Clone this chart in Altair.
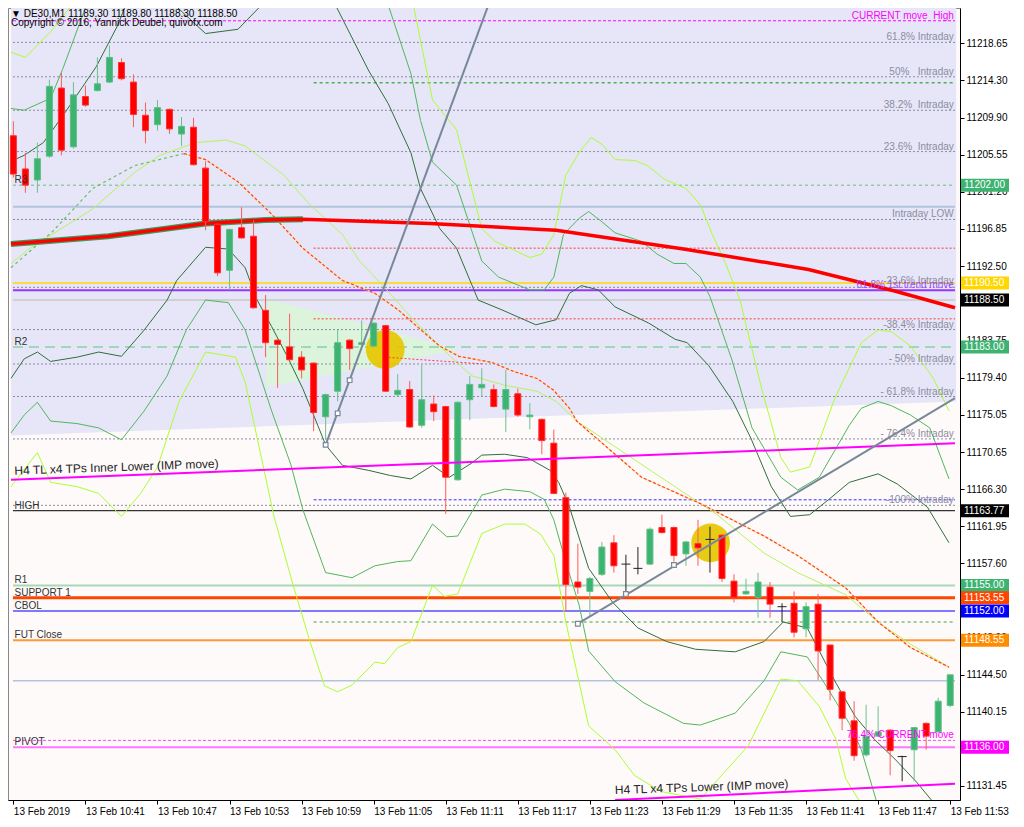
import altair as alt
import pandas as pd

# ---------------- data ----------------
time_labels = ["13 Feb 2019", "13 Feb 10:41", "13 Feb 10:47", "13 Feb 10:53", "13 Feb 10:59",
               "13 Feb 11:05", "13 Feb 11:11", "13 Feb 11:17", "13 Feb 11:23", "13 Feb 11:29",
               "13 Feb 11:35", "13 Feb 11:41", "13 Feb 11:47", "13 Feb 11:53"]
price_ticks = [11218.65, 11214.30, 11209.90, 11205.55, 11201.20, 11196.85, 11192.50, 11188.15,
               11183.75, 11179.40, 11175.05, 11170.65, 11166.30, 11161.95, 11157.60, 11153.25,
               11148.90, 11144.50, 11140.15, 11135.80, 11131.45]
covered_ticks = [11188.15, 11153.25, 11135.80]

opens = [11207.8, 11203.9, 11202.6, 11205.4, 11213.4, 11206.5, 11212.4, 11213.1, 11214.1, 11216.4,
         11214.1, 11210.2, 11209.1, 11210.9, 11208.0, 11208.8, 11204.0, 11197.4, 11192.0, 11197.0,
         11196.0, 11187.3, 11183.8, 11183.0, 11181.8, 11181.1, 11174.8, 11177.8, 11183.8, 11183.3,
         11183.1, 11185.5, 11177.4, 11178.0, 11173.8, 11176.3, 11176.0, 11167.4, 11176.8, 11178.2,
         11178.0, 11175.7, 11177.5, 11174.8, 11174.5, 11171.7, 11165.3, 11155.4, 11154.3, 11156.3,
         11160.0, 11157.5, 11157.0, 11157.5, 11161.8, 11161.8, 11158.7, 11159.9, 11160.4, 11160.9,
         11155.5, 11154.0, 11153.6, 11154.8, 11152.5, 11152.9, 11149.9, 11152.8, 11148.0, 11142.5,
         11139.1, 11135.1, 11137.3, 11138.0, 11134.9, 11135.7, 11138.8, 11137.8, 11140.9]
highs = [11209.5, 11205.8, 11207.0, 11214.4, 11215.2, 11214.1, 11213.7, 11217.0, 11218.4, 11216.9,
         11215.0, 11211.7, 11212.0, 11211.0, 11210.0, 11209.9, 11204.8, 11197.5, 11196.9, 11199.4,
         11197.9, 11189.1, 11183.9, 11186.9, 11182.5, 11181.2, 11177.5, 11185.0, 11183.9, 11186.1,
         11185.9, 11185.6, 11179.8, 11179.0, 11180.9, 11177.3, 11176.1, 11176.6, 11179.6, 11180.5,
         11178.6, 11180.3, 11178.1, 11176.4, 11174.6, 11173.3, 11165.9, 11159.9, 11156.0, 11160.1,
         11160.9, 11158.6, 11159.5, 11161.8, 11163.3, 11161.9, 11160.2, 11162.7, 11161.9, 11161.0,
         11156.3, 11155.8, 11156.5, 11155.4, 11152.9, 11154.3, 11153.0, 11154.0, 11148.0, 11142.6,
         11141.4, 11141.0, 11140.8, 11138.1, 11135.0, 11138.3, 11138.9, 11141.8, 11144.5]
lows = [11202.9, 11201.1, 11201.1, 11205.2, 11205.5, 11206.3, 11211.2, 11213.0, 11214.0, 11214.3,
        11208.8, 11206.9, 11208.4, 11208.0, 11206.6, 11204.3, 11196.7, 11191.3, 11189.7, 11195.7,
        11187.5, 11181.8, 11178.2, 11181.3, 11179.3, 11173.1, 11172.1, 11176.6, 11180.3, 11183.2,
        11183.0, 11177.7, 11177.2, 11173.5, 11173.5, 11174.3, 11163.4, 11167.3, 11174.4, 11177.2,
        11175.9, 11173.0, 11174.8, 11173.3, 11170.4, 11165.7, 11151.9, 11154.0, 11151.3, 11156.1,
        11156.5, 11154.0, 11156.3, 11157.4, 11161.1, 11157.8, 11157.3, 11157.3, 11156.5, 11155.4,
        11153.0, 11153.9, 11151.2, 11151.2, 11150.7, 11148.9, 11148.9, 11143.9, 11141.5, 11138.0,
        11134.4, 11134.9, 11137.2, 11132.7, 11132.0, 11132.0, 11135.7, 11137.7, 11140.7]
closes = [11203.3, 11202.0, 11205.1, 11213.6, 11206.1, 11212.6, 11211.4, 11213.9, 11217.0, 11214.5,
          11210.3, 11208.4, 11211.1, 11208.6, 11208.9, 11204.4, 11197.7, 11191.7, 11196.8, 11195.8,
          11187.6, 11183.5, 11183.3, 11181.5, 11180.3, 11175.3, 11177.4, 11183.5, 11182.8, 11183.5,
          11185.8, 11177.8, 11177.9, 11173.6, 11176.8, 11175.4, 11167.7, 11176.5, 11178.6, 11178.6,
          11176.0, 11178.0, 11175.0, 11175.0, 11172.0, 11165.8, 11155.1, 11154.8, 11155.8, 11159.5,
          11157.3, 11157.5, 11157.0, 11161.6, 11161.2, 11158.5, 11160.1, 11159.4, 11160.4, 11155.8,
          11153.6, 11154.3, 11155.4, 11152.8, 11152.5, 11149.5, 11152.5, 11147.3, 11142.8, 11139.4,
          11135.0, 11137.3, 11137.8, 11135.6, 11134.9, 11138.3, 11137.3, 11141.4, 11144.5]

# indicator lines: (bar position, price) read points
dg_up_bars = [-0.2, 0.9, 2.5, 4.1, 6.9, 8.7, 10.0, 11.6, 13.4, 16.0, 18.7, 20.7, 23.7, 26.8, 29.6, 31.2,
              33.1, 33.9, 35.5, 36.9, 38.7, 40.6, 43.5, 45.2, 46.3, 47.3, 48.7, 50.1, 52.9, 55.1, 56.1,
              57.9, 59.9, 61.4, 63.1, 64.7, 66.3, 67.9, 69.6, 72.0, 73.6, 76.1, 77.9]
dg_up_prices = [11204.8, 11205.5, 11207.0, 11210.1, 11215.9, 11220.8, 11225.5, 11227.8, 11223.2, 11219.8,
                11220.3, 11223.2, 11230.1, 11223.2, 11215.4, 11211.6, 11205.8, 11201.6, 11196.9, 11194.6,
                11188.5, 11187.4, 11185.6, 11186.2, 11189.3, 11190.2, 11189.7, 11187.7, 11185.8, 11183.9,
                11183.5, 11180.8, 11176.6, 11172.3, 11166.6, 11163.1, 11163.3, 11165.1, 11167.1, 11168.1,
                11166.9, 11164.2, 11160.0]
dg_lo_bars = [-0.2, 0.9, 2.0, 3.1, 5.3, 7.1, 9.0, 10.9, 12.8, 13.6, 16.0, 17.9, 19.3, 20.3, 21.5, 22.8,
              24.1, 25.2, 26.0, 27.4, 29.6, 31.4, 33.1, 34.9, 36.3, 38.2, 39.0, 40.9, 42.8, 44.7, 45.4,
              46.3, 47.9, 49.9, 52.0, 54.4, 56.8, 60.1, 62.5, 64.1, 66.1, 67.1, 68.5, 70.1, 71.7, 73.4,
              75.2, 76.9]
dg_lo_prices = [11179.3, 11181.6, 11182.4, 11181.3, 11181.8, 11182.4, 11181.9, 11185.0, 11188.5, 11190.8,
                11194.7, 11194.5, 11192.3, 11188.5, 11185.4, 11181.9, 11178.1, 11174.3, 11171.5, 11169.1,
                11168.5, 11167.9, 11167.5, 11169.1, 11167.7, 11169.4, 11170.3, 11170.4, 11170.0, 11168.5,
                11167.1, 11164.2, 11157.0, 11153.0, 11150.0, 11148.4, 11147.5, 11147.2, 11148.4, 11150.7,
                11150.0, 11147.3, 11143.5, 11139.6, 11136.9, 11134.6, 11131.9, 11129.0]
mg_up_bars = [-0.2, 0.9, 3.1, 4.1, 6.1, 18.5, 31.2, 33.1, 33.9, 34.9, 36.9, 39.0, 40.4, 43.0, 44.2, 45.0,
              45.8, 47.1, 47.9, 49.0, 50.1, 52.3, 53.6, 55.0, 56.0, 57.2, 58.0, 59.8, 61.5, 63.9, 65.3,
              67.1, 69.6, 70.6, 72.0, 73.1, 74.7, 76.3, 77.9]
mg_up_prices = [11211.0, 11210.8, 11212.2, 11215.6, 11223.2, 11232.4, 11223.2, 11215.1, 11209.6, 11204.7,
                11202.0, 11193.1, 11191.2, 11189.7, 11189.7, 11191.2, 11196.2, 11198.1, 11198.9, 11197.7,
                11196.4, 11195.4, 11193.9, 11192.8, 11192.8, 11191.2, 11188.9, 11181.6, 11173.5, 11167.7,
                11166.2, 11167.7, 11173.8, 11175.8, 11176.6, 11176.1, 11175.0, 11173.5, 11167.5]
mg_lo_bars = [-0.2, 0.9, 2.0, 3.1, 5.3, 7.1, 9.0, 10.9, 12.8, 14.4, 16.0, 17.9, 19.3, 21.5, 23.1, 24.1,
              26.0, 28.2, 30.1, 32.0, 33.1, 34.9, 36.1, 37.0, 39.0, 40.9, 43.0, 44.2, 45.0, 46.0, 47.1,
              47.9, 50.1, 52.5, 55.8, 57.2, 60.1, 62.5, 63.9, 66.1, 67.4, 69.6, 70.6, 72.0]
mg_lo_prices = [11172.9, 11175.0, 11176.5, 11174.3, 11174.0, 11173.5, 11172.1, 11175.5, 11179.6, 11185.0,
                11188.5, 11188.2, 11185.0, 11175.5, 11169.2, 11163.9, 11156.5, 11155.9, 11157.3, 11157.8,
                11157.9, 11162.2, 11160.7, 11160.8, 11165.6, 11166.3, 11166.0, 11165.1, 11162.7, 11157.7,
                11152.7, 11147.3, 11143.7, 11141.2, 11138.8, 11138.6, 11140.0, 11143.8, 11147.2, 11146.6,
                11143.8, 11138.8, 11135.7, 11129.0]
yg_up_bars = [-0.2, 1.0, 3.1, 4.9, 6.3, 19.3, 33.3, 34.9, 36.9, 39.0, 40.1, 43.0, 44.0, 45.0, 46.0, 47.1,
              48.1, 49.0, 50.1, 51.7, 52.8, 54.2, 56.0, 57.2, 58.2, 59.3, 60.5, 62.3, 63.9, 64.7, 66.3,
              68.4, 70.6, 72.0, 73.1, 74.7, 76.6, 77.9]
yg_up_prices = [11217.6, 11217.0, 11220.0, 11223.2, 11226.6, 11232.4, 11223.2, 11212.0, 11208.5, 11196.9,
                11195.4, 11193.5, 11193.9, 11196.2, 11203.2, 11205.8, 11207.6, 11206.8, 11205.0, 11204.9,
                11204.3, 11202.7, 11201.6, 11199.7, 11196.2, 11192.8, 11188.5, 11178.1, 11170.0, 11168.3,
                11168.9, 11177.0, 11183.5, 11185.0, 11184.8, 11183.1, 11179.3, 11175.5]
yg_lo_bars = [-0.2, 2.0, 3.1, 5.3, 7.1, 9.0, 10.6, 12.0, 13.8, 16.0, 18.5, 19.3, 20.3, 21.7, 23.3, 24.7,
              25.9, 27.0, 28.2, 30.1, 30.9, 32.0, 33.1, 34.9, 35.9, 37.0, 39.0, 40.9, 42.6, 43.9, 45.0,
              46.0, 47.9, 50.1, 51.7, 53.9, 57.2, 61.2, 63.9, 65.3, 67.1, 68.5, 69.3, 70.6]
yg_lo_prices = [11166.6, 11170.6, 11167.1, 11166.6, 11165.8, 11163.1, 11165.8, 11168.9, 11176.6, 11182.4,
                11181.8, 11178.9, 11172.3, 11163.1, 11155.0, 11148.4, 11143.2, 11142.5, 11143.3, 11146.0,
                11145.8, 11147.7, 11148.4, 11155.0, 11153.7, 11154.0, 11161.1, 11162.2, 11162.2, 11161.0,
                11158.5, 11150.7, 11138.5, 11135.7, 11132.7, 11130.8, 11129.9, 11136.2, 11144.0, 11143.8,
                11140.8, 11136.9, 11132.3, 11129.3]
yg_mid_bars = [-0.2, 1.4, 6.6, 10.1, 12.2, 15.2, 17.7, 19.3, 22.5, 24.7, 27.4, 28.8, 30.9, 33.3, 35.5,
               36.9, 38.2, 40.9, 43.6, 45.2, 46.9, 53.9, 58.5, 62.5, 65.3, 69.3, 72.0, 74.7, 77.9]
yg_mid_prices = [11192.8, 11194.6, 11199.2, 11203.5, 11205.5, 11207.0, 11207.3, 11206.6, 11203.2, 11199.7,
                 11196.2, 11193.1, 11190.0, 11186.2, 11183.1, 11181.2, 11179.6, 11178.5, 11177.8, 11176.6,
                 11174.3, 11167.7, 11163.4, 11158.8, 11156.5, 11153.9, 11150.7, 11148.1, 11145.4]
ma_rise_bars = [-0.2, 3.3, 6.6, 10.1, 14.2]
ma_rise_prices = [11192.3, 11196.6, 11201.6, 11204.3, 11205.7]
ma_fall_bars = [14.2, 16.0, 18.7, 21.5, 24.1, 27.4, 30.1, 32.0, 34.1, 35.5, 37.1, 39.8, 41.7, 43.6, 45.0,
                46.3, 46.9, 52.3, 57.2, 62.5, 65.3, 69.3, 72.0, 74.7, 77.9]
ma_fall_prices = [11205.7, 11205.0, 11202.4, 11198.6, 11194.6, 11190.8, 11189.3, 11187.4, 11184.8, 11183.1,
                  11181.9, 11181.2, 11180.1, 11179.3, 11177.9, 11175.8, 11174.3, 11167.7, 11164.6, 11160.8,
                  11158.5, 11154.7, 11150.7, 11147.7, 11145.4]
slow_ma_bars = [-0.2, 7.9, 16.0, 20.9, 24.1, 34.7, 45.2, 55.8, 66.2, 73.3, 78.4]
slow_ma_prices = [11195.1, 11196.0, 11197.5, 11197.9, 11198.0, 11197.5, 11196.7, 11194.5, 11192.1, 11189.6, 11187.6]

steep_tl_bars = [26, 39.55]
steep_tl_prices = [11171.5, 11223.15]
rise_tl_bars = [47, 78.4]
rise_tl_prices = [11150.5, 11177.0]
tl_anchor_bars = [26, 27, 28, 47, 51, 55]
tl_anchor_prices = [11171.5, 11175.2, 11179.1, 11150.5, 11154.0, 11157.4]
h4_inner_bars = [-0.2, 78.4]
h4_inner_prices = [11167.4, 11171.7]
h4_lower_bars = [50.1, 78.4]
h4_lower_prices = [11129.8, 11131.7]
circle_bars = [30.96, 58.05]
circle_prices = [11182.7, 11160.0]
arrow_bars = [30.9, 39.1]
arrow_prices = [11181.8, 11181.0]

zone_bars = [-0.19, 78.5]
zone_low = [11172.6, 11176.6]
tri_bars = [21.06, 37.12]
tri_low = [11178.3, 11182.7]
tri_high = [11188.7, 11182.7]

level_prices = [11221.3, 11218.76, 11214.72, 11214.03, 11210.79, 11205.94, 11202.0, 11199.47, 11197.97,
                11194.6, 11190.5, 11190.0, 11189.65, 11188.5, 11186.3, 11185.04, 11183.0, 11181.0,
                11177.18, 11172.2, 11165.05, 11164.4, 11163.77, 11155.0, 11153.55, 11152.0, 11150.7,
                11148.55, 11143.8, 11136.8, 11136.0]
GREY = "#8c8ca0"
level_styles = [
    ("#ff00ff", 1, [3, 2], False), (GREY, 1, [2, 2], False), (GREY, 1, [2, 2], False),
    ("#4caf50", 1.5, [3, 3], True), (GREY, 1, [2, 2], False), (GREY, 1, [2, 2], False),
    ("#8fcf9f", 1.5, [3, 3], False), ("#b0c4de", 2, None, False), (GREY, 1, [2, 2], False),
    ("#ff3333", 1, [2, 2], True), ("#ffd700", 1.5, None, False), (GREY, 1, [2, 2], False),
    ("#9933ff", 2, None, False), ("#c8c8c8", 1.5, None, False), ("#ff3333", 1, [2, 2], True),
    (GREY, 1, [2, 2], False), ("#9fd8b8", 2, [10, 6], False), (GREY, 1, [2, 2], False),
    (GREY, 1, [2, 2], False), (GREY, 1, [2, 2], False), ("#3333ff", 1, [3, 2], True),
    (GREY, 1, [2, 2], False), ("#000000", 1, None, False), ("#a8d8b5", 2, None, False),
    ("#ff4500", 3, None, False), ("#5050ff", 1.5, None, False), ("#80c080", 1.5, [3, 3], True),
    ("#ff9933", 2, None, False), ("#b0c4de", 1.5, None, False), ("#ff44ff", 1, [3, 2], False),
    ("#ff77ff", 2, None, False)]

right_texts = ["CURRENT move\u00a0\u00a0High", "61.8%\u00a0Intraday", "50%\u00a0\u00a0\u00a0Intraday",
               "38.2%\u00a0\u00a0Intraday", "23.6%\u00a0\u00a0Intraday", "Intraday LOW",
               "-23.6%\u00a0Intraday", "61.8%\u00a01st trend move", "-38.4%\u00a0Intraday",
               "-\u00a050%\u00a0Intraday", "-\u00a061.8%\u00a0Intraday", "-\u00a076.4%\u00a0Intraday",
               "-100%\u00a0Intraday", "76.4%\u00a0CURRENT move"]
right_text_prices = [11221.3, 11218.76, 11214.72, 11210.79, 11205.94, 11197.97, 11190.2, 11189.65,
                     11185.04, 11181.0, 11177.18, 11172.2, 11164.4, 11136.8]
right_text_colors = ["#ff00ff", GREY, GREY, GREY, GREY, GREY, GREY, "#9a4dff", GREY, GREY, GREY, GREY,
                     GREY, "#ff00ff"]
left_texts = ["R3", "R2", "HIGH", "R1", "SUPPORT 1", "CBOL", "FUT Close", "PIVOT"]
left_text_prices = [11202.0, 11183.0, 11163.77, 11155.0, 11153.55, 11152.0, 11148.55, 11136.0]

box_prices = [11202.00, 11190.50, 11188.50, 11183.00, 11163.77, 11155.00, 11153.55, 11152.00, 11148.55, 11136.00]
box_colors = ["#3cb371", "#ffd700", "#000000", "#3cb371", "#000000", "#3cb371", "#ff4500", "#0000ff",
              "#ff8c00", "#ff00ff"]

header_line1 = "\u25bc DE30,M1  11189.30 11189.80 11188.30 11188.50"
header_line2 = "Copyright \u00a9 2016, Yannick Deubel, quivofx.com"

# ---------------- chart ----------------
W, H = 952, 792
FONT = "Liberation Sans"
XS = alt.Scale(domain=[-0.03, 78.4], nice=False, zero=False)
YS = alt.Scale(domain=[11129.8, 11222.8], nice=False, zero=False)

labels_js = "[" + ",".join(f"'{s}'" for s in time_labels) + "]"
hidden_js = " || ".join(f"abs(datum.value - {v}) < 0.01" for v in covered_ticks)
X_AXIS = alt.Axis(values=list(range(0, 79, 6)), labelExpr=labels_js + "[round(datum.value/6)]",
                  labelAlign="left", labelBaseline="top", labelPadding=2, tickSize=4,
                  tickColor="black", domainColor="black", labelColor="black", labelFont=FONT,
                  labelFontSize=10, grid=False, title=None, labelFlush=False, labelOverlap=False,
                  labelBound=False, zindex=0)
Y_AXIS = alt.Axis(orient="right", values=price_ticks,
                  labelExpr=f"({hidden_js}) ? '' : format(datum.value, '.2f')",
                  tickSize=4, labelPadding=2,
                  tickColor="black", domainColor="black", labelColor="black", labelFont=FONT,
                  labelFontSize=10, grid=False, title=None, labelFlush=False, labelOverlap=False,
                  zindex=0)


def xe(field="b"):
    return alt.X(f"{field}:Q", scale=XS, axis=X_AXIS)


def ye(field="p"):
    return alt.Y(f"{field}:Q", scale=YS, axis=Y_AXIS)


def path(bars, prices, color, width=1.0, dash=None, opacity=1.0):
    df = pd.DataFrame({"b": bars, "p": prices, "i": list(range(len(bars)))})
    kw = dict(color=color, strokeWidth=width, clip=True, opacity=opacity)
    if dash:
        kw["strokeDash"] = dash
    return alt.Chart(df).mark_line(**kw).encode(x=xe(), y=ye(), order="i:Q")


layers = []

# lavender zone and triangle
zone_df = pd.DataFrame({"b": zone_bars, "p": zone_low, "p2": [11230.0, 11230.0]})
layers.append(alt.Chart(zone_df).mark_area(color="#e6e6f8", opacity=1, clip=True).encode(
    x=xe(), y=ye(), y2="p2:Q"))
tri_df = pd.DataFrame({"b": tri_bars, "p": tri_low, "p2": tri_high})
layers.append(alt.Chart(tri_df).mark_area(color="#dcf5d8", opacity=0.9, clip=True).encode(
    x=xe(), y=ye(), y2="p2:Q"))

# horizontal levels
for price, (color, width, dash, partial) in zip(level_prices, level_styles):
    df = pd.DataFrame({"b": [25.0 if partial else -0.03], "b2": [78.4], "p": [price]})
    kw = dict(color=color, strokeWidth=width, clip=True)
    if dash:
        kw["strokeDash"] = dash
    layers.append(alt.Chart(df).mark_rule(**kw).encode(x=xe(), x2="b2:Q", y=ye()))

# yellow circles
circ_df = pd.DataFrame({"b": circle_bars, "p": circle_prices})
layers.append(alt.Chart(circ_df).mark_circle(size=1500, color="#e6c700", opacity=0.92, clip=True).encode(
    x=xe(), y=ye()))

# bands
layers.append(path(yg_up_bars, yg_up_prices, "#adff2f", 1))
layers.append(path(yg_lo_bars, yg_lo_prices, "#adff2f", 1))
layers.append(path(mg_up_bars, mg_up_prices, "#4fb85a", 1))
layers.append(path(mg_lo_bars, mg_lo_prices, "#4fb85a", 1))
layers.append(path(dg_up_bars, dg_up_prices, "#2f6f3a", 1))
layers.append(path(dg_lo_bars, dg_lo_prices, "#2f6f3a", 1))
layers.append(path(yg_mid_bars, yg_mid_prices, "#b5f55a", 1))

# moving averages
layers.append(path(ma_rise_bars, ma_rise_prices, "#6abf6a", 1.2, [3, 3]))
layers.append(path(ma_fall_bars, ma_fall_prices, "#ffe680", 1.2))
layers.append(path(ma_fall_bars, ma_fall_prices, "#ff3b3b", 1.2, [3, 2]))
layers.append(path(slow_ma_bars[:5], slow_ma_prices[:5], "#3c9a5a", 6))
layers.append(path(slow_ma_bars, slow_ma_prices, "#ff0000", 3.5))

# small dotted marker from circle
layers.append(path(arrow_bars, arrow_prices, "#ff3b3b", 1, [2, 2]))

# candles
cdf = pd.DataFrame({"b": list(range(len(opens))), "o": opens, "h": highs, "l": lows, "c": closes})
cdf["dir"] = ["doji" if o == c else ("up" if c > o else "down") for o, c in zip(opens, closes)]
wick_scale = alt.Scale(domain=["up", "down", "doji"], range=["#6cc08e", "#ff5a5a", "#222222"])
layers.append(alt.Chart(cdf).mark_rule(strokeWidth=1, clip=True).encode(
    x=xe(), y=ye("l"), y2="h:Q",
    color=alt.Color("dir:N", scale=wick_scale, legend=None)))
body_df = cdf[cdf["dir"] != "doji"]
layers.append(alt.Chart(body_df).mark_bar(size=6, strokeWidth=1, opacity=1, fillOpacity=1, clip=True).encode(
    x=xe(), y=ye("o"), y2="c:Q",
    fill=alt.Fill("dir:N", scale=alt.Scale(domain=["up", "down"], range=["#3cb371", "#ff0000"]), legend=None),
    stroke=alt.Stroke("dir:N", scale=alt.Scale(domain=["up", "down"], range=["#5cbf85", "#ff3030"]), legend=None)))
doji_df = cdf[cdf["dir"] == "doji"]
layers.append(alt.Chart(doji_df).mark_tick(orient="horizontal", size=9, thickness=1, opacity=1,
                                           color="#222222", clip=True).encode(x=xe(), y=ye("o")))

# trend lines
layers.append(path(h4_inner_bars, h4_inner_prices, "#ff00ff", 2))
layers.append(path(h4_lower_bars, h4_lower_prices, "#ff00ff", 2))
layers.append(path(steep_tl_bars, steep_tl_prices, "#778899", 2))
layers.append(path(rise_tl_bars, rise_tl_prices, "#778899", 2))
anc_df = pd.DataFrame({"b": tl_anchor_bars, "p": tl_anchor_prices})
layers.append(alt.Chart(anc_df).mark_square(size=22, filled=True, fill="white", stroke="#778899",
                                            strokeWidth=1.2, opacity=1, clip=True).encode(x=xe(), y=ye()))

# texts
rt_df = pd.DataFrame({"b": [78.3] * len(right_texts), "p": right_text_prices, "t": right_texts,
                      "col": right_text_colors})
layers.append(alt.Chart(rt_df).mark_text(align="right", baseline="alphabetic", dy=-2, font=FONT,
                                         fontSize=10).encode(
    x=xe(), y=ye(), text="t:N", color=alt.Color("col:N", scale=None)))
lt_df = pd.DataFrame({"b": [0.1] * len(left_texts), "p": left_text_prices, "t": left_texts})
layers.append(alt.Chart(lt_df).mark_text(align="left", baseline="alphabetic", dy=-2, font=FONT,
                                         fontSize=10, color="#333333").encode(
    x=xe(), y=ye(), text="t:N"))
h4_df = pd.DataFrame({"b": [0.1, 50.1], "p": [11168.0, 11130.5],
                      "t": ["H4 TL x4 TPs Inner Lower (IMP move)", "H4 TL x4 TPs Lower (IMP move)"]})
layers.append(alt.Chart(h4_df).mark_text(align="left", baseline="alphabetic", angle=358, font=FONT,
                                         fontSize=12, color="#222222").encode(
    x=xe(), y=ye(), text="t:N"))
for txt, ypix in [(header_line1, 6), (header_line2, 15)]:
    layers.append(alt.Chart(pd.DataFrame({"t": [txt]})).mark_text(
        align="left", baseline="middle", font=FONT, fontSize=10, color="black").encode(
        x=alt.value(3), y=alt.value(ypix), text="t:N"))

# price boxes on the right axis
box_df = pd.DataFrame({"p": box_prices, "col": box_colors,
                       "t": [f"{v:.2f}" for v in box_prices]})
layers.append(alt.Chart(box_df).mark_tick(orient="horizontal", size=48, thickness=13, opacity=1).encode(
    x=alt.value(W + 25), y=ye(), color=alt.Color("col:N", scale=None)))
layers.append(alt.Chart(box_df).mark_text(align="left", baseline="middle", font=FONT, fontSize=10,
                                          color="white").encode(
    x=alt.value(W + 4), y=ye(), text="t:N"))

chart = alt.layer(*layers).properties(
    width=W, height=H,
    autosize=alt.AutoSizeParams(type="none"),
    padding={"left": 0, "top": 0, "right": 56, "bottom": 18},
    background="white",
).configure_view(stroke="#888888", fill="#fffafa")

chart.save("out.html", embed_options={"renderer": "svg", "actions": False})
